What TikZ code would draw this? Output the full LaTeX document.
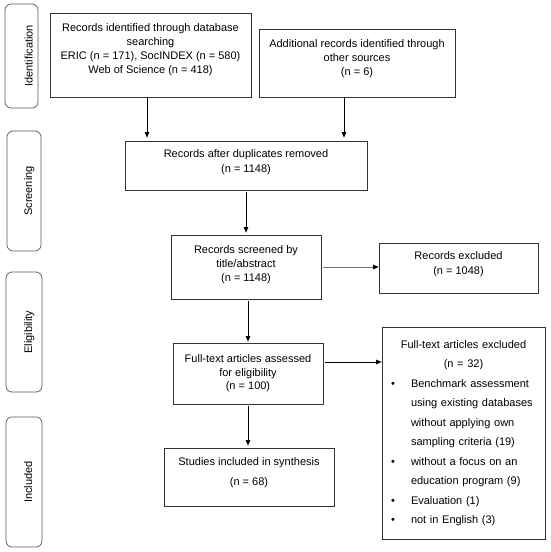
\documentclass[tikz,border=0pt]{standalone}
\usepackage{fontspec}
\setmainfont{Liberation Sans}
\usetikzlibrary{arrows.meta}
\begin{document}
\begin{tikzpicture}[x=1pt,y=-1pt,
  box/.style={draw=black!80, line width=0.7pt, align=center, inner sep=0pt,
    font=\fontsize{11}{14}\selectfont},
  side/.style={draw=black!65, line width=0.7pt, rounded corners=6pt, rotate=90,
    inner sep=0pt, text height=18pt, text depth=2pt, font=\fontsize{11}{13}\selectfont},
  arr/.style={draw=black, line width=0.7pt, -{Triangle[length=5.5pt,width=4.5pt,color=black]}}
]
\useasboundingbox (0,0) rectangle (550,552);

% phase labels
\node[side, text height=24pt, minimum width=104pt, minimum height=33pt] (sid) at (21.5,56) {Identification};
\node[side, minimum width=120pt, minimum height=34pt] (sscr) at (24,191) {Screening};
\node[side, minimum width=120pt, minimum height=36pt] (selig) at (24,332) {Eligibility};
\node[side, minimum width=130pt, minimum height=36pt] (sinc) at (24,482) {Included};

% boxes
\node[box, minimum width=201pt, minimum height=84pt, text depth=12.3pt] (b1) at (150.5,55)
  {Records identified through database\\searching\\ERIC (n = 171), SocINDEX (n = 580)\\Web of Science (n = 418)};
\node[box, minimum width=196pt, minimum height=68pt, text depth=10.3pt] (b2) at (357,63)
  {Additional records identified through\\other sources\\(n = 6)};
\node[box, minimum width=242pt, minimum height=49pt, text depth=8.3pt,
  font=\fontsize{11}{15}\selectfont] (b3) at (246,165.5)
  {Records after duplicates removed\\(n = 1148)};
\node[box, minimum width=150pt, minimum height=64pt, text depth=6.3pt] (b4) at (246,267)
  {Records screened by\\title/abstract\\(n = 1148)};
\node[box, minimum width=159pt, minimum height=50pt, text depth=9.3pt,
  font=\fontsize{11}{15}\selectfont] (b5) at (458.5,268)
  {Records excluded\\(n = 1048)};
\node[box, minimum width=150pt, minimum height=61pt, text depth=2.3pt,
  font=\fontsize{11}{13.5}\selectfont] (b6) at (248,373.5)
  {Full-text articles assessed\\for eligibility\\(n = 100)};
\node[box, minimum width=163pt, minimum height=212pt, text width=163pt, align=left,
  font=\fontsize{11}{19.5}\selectfont] (b7) at (463.5,433)
  {\makebox[163pt][c]{Full-text articles excluded}\\
   \makebox[163pt][c]{(n = 32)}\\
   \hspace*{9pt}\makebox[20pt][l]{\textbullet}Benchmark assessment\\
   \hspace*{29pt}using existing databases\\
   \hspace*{29pt}without applying own\\
   \hspace*{29pt}sampling criteria (19)\\
   \hspace*{9pt}\makebox[20pt][l]{\textbullet}without a focus on an\\
   \hspace*{29pt}education program (9)\\
   \hspace*{9pt}\makebox[20pt][l]{\textbullet}Evaluation (1)\\
   \hspace*{9pt}\makebox[20pt][l]{\textbullet}not in English (3)};
\node[box, minimum width=170pt, minimum height=58pt, text depth=10.3pt,
  font=\fontsize{11}{20}\selectfont] (b8) at (249,477)
  {Studies included in synthesis\\(n = 68)};

% connectors
\draw[arr, shorten >=3pt] ([xshift=-3.5pt]b1.south) -- ([xshift=-3.5pt]b1.south |- b3.north);
\draw[arr, shorten >=3pt] ([xshift=-13pt]b2.south) -- ([xshift=-13pt]b2.south |- b3.north);
\draw[arr, shorten <=2pt, shorten >=2pt] (b3.south) -- (b3.south |- b4.north);
\draw[arr, draw=black!55, shorten <=2pt] (b4.east) -- (b4.east -| b5.west);
\draw[arr, shorten <=2pt, shorten >=1pt] ([xshift=2pt]b4.south) -- ([xshift=2pt]b4.south |- b6.north);
\draw[arr, shorten <=2pt] ([yshift=11.5pt]b6.east) -- ([yshift=11.5pt]b6.east -| b7.west);
\draw[arr, shorten <=2pt, shorten >=2pt] (b6.south) -- (b6.south |- b8.north);
\end{tikzpicture}
\end{document}
